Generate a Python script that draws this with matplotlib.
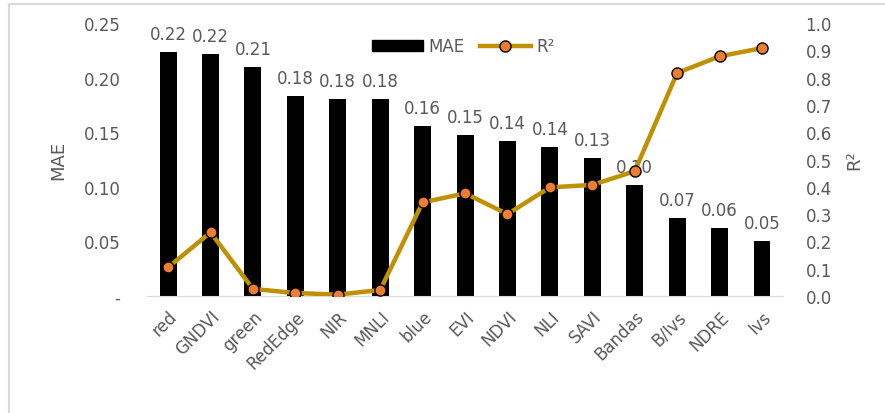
import numpy as np
import matplotlib.pyplot as plt
from matplotlib.patches import Patch
from matplotlib.lines import Line2D

plt.rcParams['font.family'] = ['DejaVu Sans']

indices = ['red', 'GNDVI', 'green', 'RedEdge', 'NIR', 'MNLI', 'blue', 'EVI',
           'NDVI', 'NLI', 'SAVI', 'Bandas', 'B/Ivs', 'NDRE', 'Ivs']
mae = [0.223, 0.222, 0.210, 0.183, 0.180, 0.180, 0.156, 0.147,
       0.142, 0.136, 0.126, 0.102, 0.071, 0.062, 0.050]
r2 = [0.105, 0.233, 0.026, 0.011, 0.005, 0.022, 0.343, 0.376,
      0.300, 0.398, 0.407, 0.457, 0.817, 0.878, 0.908]
mae_ticks = [0, 0.05, 0.10, 0.15, 0.20, 0.25]
mae_ticklabels = ['-', '0.05', '0.10', '0.15', '0.20', '0.25']
r2_ticks = np.arange(0, 1.01, 0.1)

grey = '#595959'
gold = '#BF9000'
orange = '#ED7D31'
fs = 12

fig = plt.figure(figsize=(8.85, 4.14), dpi=100)
ax = fig.add_axes([0.166, 0.2826, 0.719, 0.6594])
x = np.arange(len(indices))

ax.bar(x, mae, width=0.4, color='black', zorder=2)
for xi, v in zip(x, mae):
    ax.annotate('%.2f' % v, (xi, v), xytext=(0, 6.5), textcoords='offset points',
                ha='center', va='bottom', fontsize=fs, color=grey)

ax.set_xlim(-0.5, len(indices) - 0.5)
ax.set_ylim(0, 0.25)
ax.set_yticks(mae_ticks)
ax.set_yticklabels(mae_ticklabels)
ax.set_xticks(x)
ax.set_xticklabels(indices, rotation=45, ha='right', rotation_mode='anchor')
ax.tick_params(axis='y', length=0, pad=19, labelsize=fs, labelcolor=grey)
ax.tick_params(axis='x', length=0, pad=8, labelsize=fs, labelcolor=grey)
for s in ['top', 'right', 'left']:
    ax.spines[s].set_visible(False)
ax.spines['bottom'].set_color('#D9D9D9')
ax.set_ylabel('MAE', fontsize=13, color=grey, labelpad=12)

ax2 = ax.twinx()
ax2.plot(x, r2, color=gold, lw=3.2, marker='o', ms=8, mfc=orange,
         mec='black', mew=1, zorder=3)
ax2.set_ylim(0, 1.0)
ax2.set_yticks(r2_ticks)
ax2.set_yticklabels(['%.1f' % t for t in r2_ticks])
ax2.tick_params(axis='y', length=0, pad=16, labelsize=fs, labelcolor=grey)
for s in ['top', 'right', 'left', 'bottom']:
    ax2.spines[s].set_visible(False)
ax2.set_ylabel('R²', fontsize=13, color=grey, labelpad=10)

handles = [Patch(color='black'),
           Line2D([], [], color=gold, lw=3.2, marker='o', ms=8, mfc=orange,
                  mec='black', mew=1)]
leg = ax2.legend(handles, ['MAE', 'R²'], loc='center', bbox_to_anchor=(0.497, 0.915),
                 ncol=2, frameon=False, fontsize=fs, handlelength=3.1,
                 handleheight=0.6, columnspacing=0.9, handletextpad=0.3)
for t in leg.get_texts():
    t.set_color(grey)

# chart area frame (only top and left edges visible)
fig.add_artist(Line2D([0.01, 1.0], [0.988, 0.988], color='#D9D9D9', lw=1.5,
                      transform=fig.transFigure))
fig.add_artist(Line2D([0.01, 0.01], [0.0, 0.988], color='#D9D9D9', lw=1.5,
                      transform=fig.transFigure))

fig.savefig('out.png', dpi=100)
